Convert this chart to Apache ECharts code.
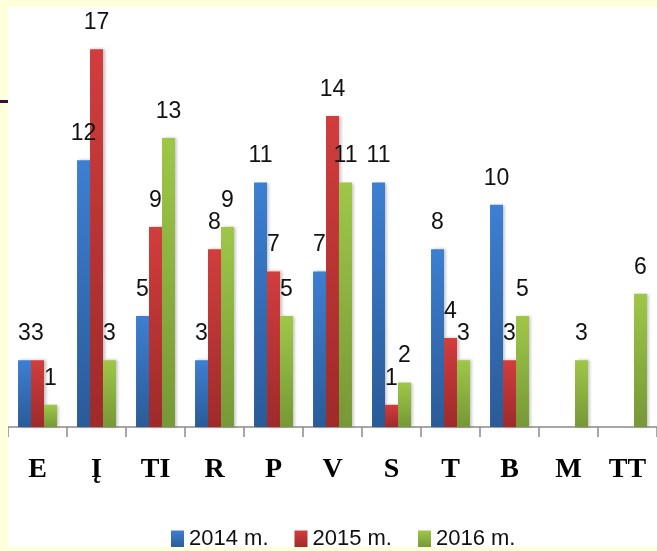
<!DOCTYPE html>
<html>
<head>
<meta charset="utf-8">
<script src="https://cdn.jsdelivr.net/npm/echarts@6/dist/echarts.min.js"></script>
<style>
  html, body { margin: 0; padding: 0; background: #ffffdc; }
  #wrap { position: relative; width: 657px; height: 551px; overflow: hidden; }
  #main { position: absolute; left: 8px; top: 7px; width: 649px; height: 540px; background: #fff; }
  #mark { position: absolute; left: 0; top: 100px; width: 8px; height: 3px; background: #3e0c3c; }
</style>
</head>
<body>
<div id="wrap">
  <div id="main"></div>
  <div id="mark"></div>
</div>
<script>
// kategorijos ir reikšmės
var categories = ["E", "Į", "TI", "R", "P", "V", "S", "T", "B", "M", "TT"];
var data2014 = [3, 12, 5, 3, 11, 7, 11, 8, 10, null, null];
var data2015 = [3, 17, 9, 8, 7, 14, 1, 4, 3, null, null];
var data2016 = [1, 3, 13, 9, 5, 11, 2, 3, 5, 3, 6];
var seriesNames = ["2014 m.", "2015 m.", "2016 m."];

function grad(top, bottom) {
  return {
    type: "linear", x: 0, y: 0, x2: 0, y2: 1,
    colorStops: [{ offset: 0, color: top }, { offset: 1, color: bottom }]
  };
}

function bar(name, data, top, bottom) {
  return {
    name: name,
    type: "bar",
    data: data,
    barGap: "0%",
    barCategoryGap: "34%",
    itemStyle: {
      color: grad(top, bottom),
      shadowBlur: 3,
      shadowOffsetX: 2,
      shadowColor: "rgba(0,0,0,0.25)"
    },
    label: {
      show: true,
      position: "top",
      distance: 15,
      color: "#111",
      fontFamily: "Liberation Sans",
      fontSize: 23
    }
  };
}

var myChart = echarts.init(document.getElementById("main"));
myChart.setOption({
  animation: false,
  grid: { left: -3, top: 20, width: 660, height: 400 },
  legend: {
    left: 158,
    top: 516,
    itemWidth: 13,
    itemHeight: 17,
    itemGap: 26,
    icon: "rect",
    textStyle: { fontFamily: "Liberation Sans", fontSize: 22, color: "#111" },
    data: seriesNames
  },
  xAxis: {
    type: "category",
    data: categories,
    axisLine: { show: true, lineStyle: { color: "#8a8a8a", width: 1.5 } },
    axisTick: { show: true, interval: 0, length: 10, lineStyle: { color: "#8a8a8a", width: 1.5 } },
    axisLabel: {
      margin: 29,
      color: "#000",
      fontFamily: "Liberation Serif",
      fontWeight: "bold",
      fontSize: 28
    }
  },
  yAxis: { type: "value", min: 0, max: 18, show: false },
  series: [
    bar(seriesNames[0], data2014, "#3d7fd2", "#2a5b98"),
    bar(seriesNames[1], data2015, "#d23d3d", "#9e2a2a"),
    bar(seriesNames[2], data2016, "#9ec748", "#769836")
  ]
});
</script>
</body>
</html>
